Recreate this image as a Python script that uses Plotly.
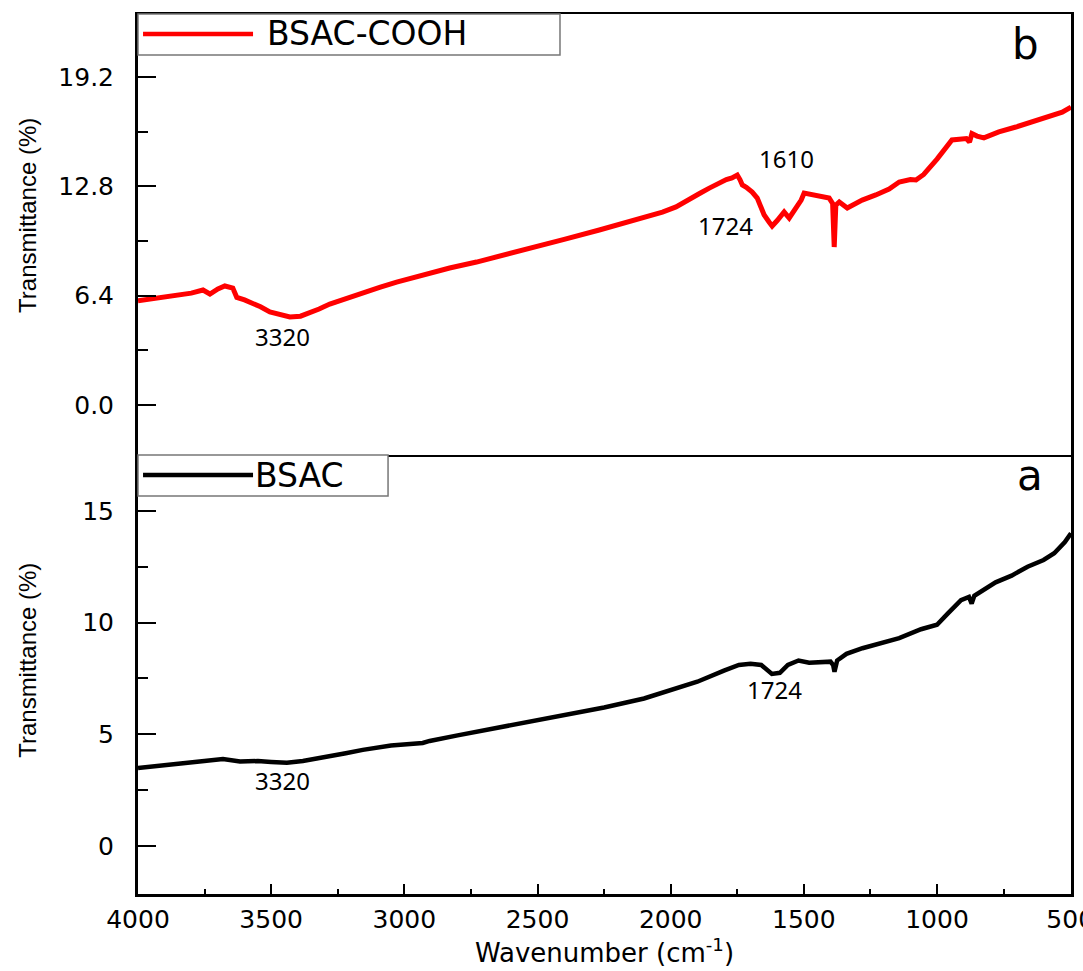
import plotly.graph_objects as go
from plotly.subplots import make_subplots

# ---- FTIR spectrum of BSAC-COOH (panel b) ----
bsac_cooh_wn = [4000, 3940, 3900, 3842, 3800, 3756, 3730, 3700, 3674, 3644, 3629, 3600,
                3569, 3540, 3505, 3470, 3430, 3390, 3355, 3320, 3280, 3220, 3156, 3090,
                3029, 2960, 2905, 2830, 2729, 2640, 2541, 2400, 2268, 2150, 2031, 1980,
                1930, 1890, 1855, 1820, 1791, 1770, 1750, 1740, 1731, 1716, 1694, 1675,
                1662, 1649, 1630, 1619, 1600, 1574, 1555, 1540, 1529, 1510, 1499, 1480,
                1454, 1430, 1405, 1392, 1386, 1380, 1367, 1337, 1310, 1281, 1230, 1180,
                1142, 1100, 1079, 1050, 1000, 944, 890, 878, 869, 850, 824, 790, 768,
                704, 644, 600, 569, 530, 497]
bsac_cooh_t = [6.10, 6.25, 6.35, 6.44, 6.55, 6.73, 6.50, 6.80, 6.97, 6.85, 6.30, 6.15,
               5.97, 5.75, 5.45, 5.28, 5.15, 5.20, 5.39, 5.62, 5.91, 6.20, 6.56, 6.90,
               7.20, 7.50, 7.73, 8.02, 8.37, 8.75, 9.14, 9.70, 10.25, 10.75, 11.30, 11.60,
               12.00, 12.40, 12.70, 13.00, 13.20, 13.30, 13.47, 13.20, 12.88, 12.75, 12.47, 12.12,
               11.60, 11.13, 10.70, 10.48, 10.80, 11.30, 10.95, 11.30, 11.54, 12.00, 12.41, 12.35,
               12.24, 12.15, 12.12, 11.80, 9.25, 11.70, 11.89, 11.54, 11.75, 12.00, 12.30, 12.65,
               13.06, 13.20, 13.18, 13.50, 14.40, 15.52, 15.60, 15.40, 15.90, 15.75, 15.64, 15.85, 15.99,
               16.28, 16.57, 16.75, 16.92, 17.15, 17.45]

# ---- FTIR spectrum of BSAC (panel a) ----
bsac_wn = [4000, 3900, 3800, 3720, 3681, 3617, 3550, 3500, 3441, 3381, 3300, 3220,
           3156, 3050, 2931, 2905, 2800, 2700, 2541, 2400, 2250, 2100, 2000, 1900,
           1800, 1744, 1700, 1660, 1620, 1590, 1560, 1520, 1480, 1440, 1400, 1390,
           1385, 1375, 1340, 1280, 1200, 1142, 1060, 1000, 960, 910, 880, 870, 860,
           840, 780, 720, 660, 600, 560, 520, 497]
bsac_t = [3.49, 3.62, 3.75, 3.82, 3.89, 3.78, 3.80, 3.76, 3.72, 3.80, 4.00, 4.15,
          4.30, 4.50, 4.61, 4.70, 4.95, 5.18, 5.50, 5.85, 6.20, 6.60, 6.95, 7.35,
          7.85, 8.10, 8.15, 8.10, 7.70, 7.75, 8.10, 8.30, 8.20, 8.20, 8.25, 8.10,
          7.80, 8.30, 8.60, 8.85, 9.10, 9.30, 9.70, 9.90, 10.40, 11.00, 11.15, 10.85, 11.20,
          11.35, 11.80, 12.10, 12.50, 12.80, 13.10, 13.60, 14.00]

# ---- peak labels: (text, wavenumber position, transmittance position) ----
peaks_b = [("3320", 3456, 4.0), ("1724", 1795, 10.5), ("1610", 1566, 14.45)]
peaks_a = [("3320", 3456, 2.95), ("1724", 1611, 7.0)]

x_range = [4000, 497]
y_range_b = [-2.93, 22.9]
y_range_a = [-2.15, 17.5]

TICK_FONT = dict(family="DejaVu Sans", size=25, color="black")
split = 0.4989

fig = make_subplots(rows=2, cols=1, shared_xaxes=True, vertical_spacing=0)

fig.add_trace(go.Scatter(x=bsac_cooh_wn, y=bsac_cooh_t, mode="lines", name="BSAC-COOH",
                         line=dict(color="#ff0000", width=5)), row=1, col=1)
fig.add_trace(go.Scatter(x=bsac_wn, y=bsac_t, mode="lines", name="BSAC",
                         line=dict(color="black", width=4.5)), row=2, col=1)

fig.update_layout(
    width=1083, height=971,
    margin=dict(l=138, r=12, t=14, b=77, autoexpand=False),
    paper_bgcolor="white", plot_bgcolor="white",
    showlegend=False,
)

fig.update_xaxes(range=x_range, showgrid=False, zeroline=False, automargin=False)
fig.update_layout(
    xaxis=dict(domain=[0, 1], showticklabels=False, ticks="", showline=True,
               linecolor="black", linewidth=2, mirror=True),
    xaxis2=dict(showline=True, linecolor="black", linewidth=3, mirror=False,
                ticks="inside", ticklen=10, tickwidth=2, tickcolor="black",
                tick0=0, dtick=500, tickfont=TICK_FONT, ticklabelstandoff=1,
                ticklabeloverflow="allow",
                minor=dict(ticks="inside", ticklen=5, tickwidth=2, tickcolor="black",
                           tick0=0, dtick=250),
                title=dict(text="Wavenumber (cm<sup>-1</sup>)",
                           font=dict(family="DejaVu Sans", size=26, color="black"),
                           standoff=10)),
    yaxis=dict(domain=[split, 1], range=y_range_b, showgrid=False, zeroline=False,
               automargin=False,
               showline=True, linecolor="black", linewidth=3, mirror=True,
               ticks="inside", ticklen=18, tickwidth=2, tickcolor="black",
               tick0=0, dtick=6.4, tickformat=".1f", tickfont=TICK_FONT,
               ticklabelstandoff=16,
               minor=dict(ticks="inside", ticklen=10, tickwidth=2, tickcolor="black",
                          tick0=0, dtick=3.2)),
    yaxis2=dict(domain=[0, split], range=y_range_a, showgrid=False, zeroline=False,
                automargin=False,
                showline=True, linecolor="black", linewidth=3, mirror=True,
                ticks="inside", ticklen=18, tickwidth=2, tickcolor="black",
                tick0=0, dtick=5, tickfont=TICK_FONT, ticklabelstandoff=16,
                minor=dict(ticks="inside", ticklen=10, tickwidth=2, tickcolor="black",
                           tick0=0, dtick=2.5)),
)

annotations = []
# axis titles for each panel
for yc in (0.7716, 0.266):
    annotations.append(dict(text="Transmittance (%)", xref="paper", yref="paper",
                            x=-0.118, y=yc, xanchor="center", yanchor="middle",
                            textangle=-90, showarrow=False,
                            font=dict(family="Liberation Sans", size=24, color="black")))
# panel letters
annotations.append(dict(text="b", xref="paper", yref="paper", x=0.9507, y=0.9648,
                        showarrow=False, xanchor="center", yanchor="middle",
                        font=dict(family="DejaVu Sans", size=42, color="black")))
annotations.append(dict(text="a", xref="paper", yref="paper", x=0.956, y=0.476,
                        showarrow=False, xanchor="center", yanchor="middle",
                        font=dict(family="DejaVu Sans", size=42, color="black")))
# peak labels
for txt, xv, yv in peaks_b:
    annotations.append(dict(text=txt, x=xv, y=yv, xref="x", yref="y", showarrow=False,
                            font=dict(family="Noto Sans", size=24, color="black")))
for txt, xv, yv in peaks_a:
    annotations.append(dict(text=txt, x=xv, y=yv, xref="x2", yref="y2", showarrow=False,
                            font=dict(family="Noto Sans", size=24, color="black")))

# legend boxes drawn at the top-left of each panel
legend_specs = [
    # (label, colour, box x1, box y0, box y1, line y, text x)
    ("BSAC-COOH", "#ff0000", 0.4523, 0.9534, 1.0, 0.9773, 0.1361),
    ("BSAC", "black", 0.268, 0.4523, split, 0.4761, 0.1233),
]
shapes = []
for label, colour, bx1, by0, by1, ly, tx in legend_specs:
    shapes.append(dict(type="rect", xref="paper", yref="paper", x0=0.0, x1=bx1,
                       y0=by0, y1=by1, line=dict(color="#777777", width=1.5),
                       fillcolor="white", layer="above"))
    shapes.append(dict(type="line", xref="paper", yref="paper", x0=0.0054, x1=0.1233,
                       y0=ly, y1=ly, line=dict(color=colour, width=4.5), layer="above"))
    annotations.append(dict(text=label, xref="paper", yref="paper", x=tx, y=ly,
                            xanchor="left", yanchor="middle", showarrow=False,
                            font=dict(family="DejaVu Sans", size=33, color="black")))

fig.update_layout(annotations=annotations, shapes=shapes)

fig.write_html("out.html")
